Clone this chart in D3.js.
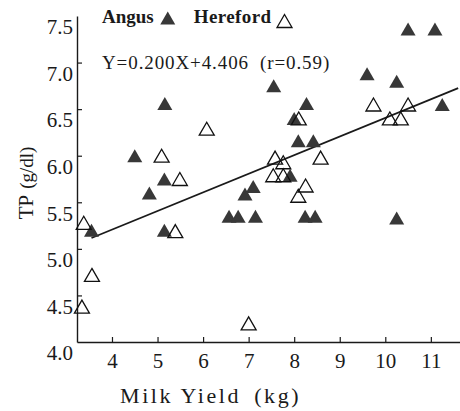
<!DOCTYPE html>
<html>
<head>
<meta charset="utf-8">
<script src="https://cdn.jsdelivr.net/npm/d3@7"></script>
<style>
  html, body { margin: 0; padding: 0; background: #fff; }
  svg { display: block; }
  text { font-family: "Liberation Serif", "DejaVu Serif", serif; fill: #1a1a1a; }
</style>
</head>
<body>
<svg id="chart" width="460" height="411"></svg>
<script>
// Milk yield (kg) and total serum protein TP (g/dl), per breed
const angusYield = [3.55, 4.5, 4.82, 5.15, 5.16, 5.15, 6.57, 6.77, 7.15, 6.92, 7.1, 7.55, 7.91,
  8.0, 8.09, 8.42, 8.27, 8.24, 8.46, 9.6, 10.25, 10.25, 10.5, 11.09, 11.25];
const angusTP = [5.2, 6.0, 5.6, 5.75, 6.56, 5.2, 5.35, 5.35, 5.35, 5.59, 5.67, 6.75, 5.79,
  6.4, 6.16, 6.16, 6.56, 5.35, 5.35, 6.88, 6.8, 5.33, 7.36, 7.36, 6.55];
const herefordYield = [3.34, 3.38, 3.56, 5.09, 5.49, 5.39, 6.08, 7.0, 7.54, 7.58, 7.76, 7.76,
  8.1, 8.09, 8.25, 8.58, 9.74, 10.1, 10.34, 10.5];
const herefordTP = [4.38, 5.28, 4.72, 6.0, 5.75, 5.19, 6.29, 4.2, 5.79, 5.98, 5.93, 5.79,
  6.4, 5.57, 5.68, 5.98, 6.55, 6.4, 6.4, 6.55];

// Regression line Y = 0.200X + 4.406 over the observed yield range
const slope = 0.200, intercept = 4.406, rValue = 0.59;
const fitRange = [3.55, 11.6];

const xTicks = [4, 5, 6, 7, 8, 9, 10, 11];
const yTicks = [4.0, 4.5, 5.0, 5.5, 6.0, 6.5, 7.0, 7.5];
const xDomain = [3.232, 11.64];
const yDomain = [4.0, 7.5];

const svg = d3.select("#chart");
const plot = { left: 77, right: 460, top: 16, bottom: 342 };

const x = d3.scaleLinear().domain(xDomain).range([plot.left, plot.right]);
const y = d3.scaleLinear().domain(yDomain).range([plot.bottom, plot.top]);

const ink = "#1a1a1a";

// X axis: ticks point inward, labels below
const xAxis = svg.append("g")
  .attr("transform", `translate(0,${plot.bottom})`)
  .call(d3.axisBottom(x).tickValues(xTicks).tickSize(-5).tickSizeOuter(0).tickPadding(11)
    .tickFormat(d3.format("d")));
xAxis.select(".domain").attr("stroke", ink).attr("stroke-width", 1.4);
xAxis.selectAll(".tick line").attr("stroke", ink).attr("stroke-width", 1.2);
xAxis.selectAll(".tick text")
  .attr("fill", ink)
  .style("font-size", "21px")
  .style("font-family", "Liberation Serif");

// Y axis: ticks point inward, labels set slightly below each tick
const yAxis = svg.append("g")
  .attr("transform", `translate(${plot.left},0)`)
  .call(d3.axisLeft(y).tickValues(yTicks).tickSize(-5).tickSizeOuter(0).tickPadding(4)
    .tickFormat(d3.format(".1f")));
yAxis.select(".domain").attr("stroke", ink).attr("stroke-width", 1.4);
yAxis.selectAll(".tick line").attr("stroke", ink).attr("stroke-width", 1.2)
  .filter(d => d === 7.5 || d === 4.0).remove();
yAxis.selectAll(".tick text")
  .attr("fill", ink)
  .attr("y", 11)
  .style("font-size", "21px")
  .style("font-family", "Liberation Serif");

// Triangle glyph centred on its bounding box
function triangle(w, h) {
  return {
    draw(ctx) {
      ctx.moveTo(0, -h / 2);
      ctx.lineTo(w / 2, h / 2);
      ctx.lineTo(-w / 2, h / 2);
      ctx.closePath();
    }
  };
}
const filledTri = d3.symbol().type(triangle(15, 13))();
const openTri = d3.symbol().type(triangle(15, 13))();

const angus = angusYield.map((v, i) => ({ x: v, y: angusTP[i] }));
const hereford = herefordYield.map((v, i) => ({ x: v, y: herefordTP[i] }));

// Regression line
const line = d3.line().x(d => x(d)).y(d => y(slope * d + intercept));
svg.append("path")
  .attr("d", line(fitRange))
  .attr("fill", "none")
  .attr("stroke", ink)
  .attr("stroke-width", 1.7);

svg.append("g").selectAll("path")
  .data(angus).join("path")
  .attr("d", filledTri)
  .attr("transform", d => `translate(${x(d.x)},${y(d.y)})`)
  .attr("fill", "#383838");

svg.append("g").selectAll("path")
  .data(hereford).join("path")
  .attr("d", openTri)
  .attr("transform", d => `translate(${x(d.x)},${y(d.y)})`)
  .attr("fill", "none")
  .attr("stroke", "#111")
  .attr("stroke-width", 1.3)
  .attr("stroke-linejoin", "miter");

// Legend
const legend = svg.append("g");
const angusLabel = legend.append("text")
  .attr("x", 102).attr("y", 23)
  .style("font-size", "19px").style("font-weight", "bold")
  .text("Angus");
const aEnd = 102 + angusLabel.node().getComputedTextLength();
legend.append("path").attr("d", filledTri)
  .attr("transform", `translate(${aEnd + 14},${18})`)
  .attr("fill", "#383838");
const hx = aEnd + 40;
const herefordLabel = legend.append("text")
  .attr("x", hx).attr("y", 23)
  .style("font-size", "19px").style("font-weight", "bold")
  .style("letter-spacing", "0.4px")
  .text("Hereford");
const hEnd = hx + herefordLabel.node().getComputedTextLength();
legend.append("path").attr("d", openTri)
  .attr("transform", `translate(${hEnd + 13},${21})`)
  .attr("fill", "none").attr("stroke", "#111").attr("stroke-width", 1.3);

// Regression equation
const eq = svg.append("text")
  .attr("x", 102).attr("y", 69)
  .style("font-size", "19px")
  .style("letter-spacing", "0.9px");
eq.append("tspan").text(`Y=${slope.toFixed(3)}X+${intercept.toFixed(3)}`);
eq.append("tspan").attr("dx", 11).text(`(r=${rValue.toFixed(2)})`);

// Axis titles
const xt = svg.append("text")
  .attr("x", 120).attr("y", 403)
  .style("font-size", "22px")
  .style("letter-spacing", "2.6px");
xt.append("tspan").text("Milk Yield");
xt.append("tspan").attr("dx", 13).text("(kg)");

const yt = svg.append("text")
  .attr("transform", "translate(33,183) rotate(-90)")
  .attr("text-anchor", "middle")
  .style("font-size", "21px");
yt.append("tspan").text("TP");
yt.append("tspan").attr("dx", 6).style("font-size", "19px").text("(g/dl)");
</script>
</body>
</html>
